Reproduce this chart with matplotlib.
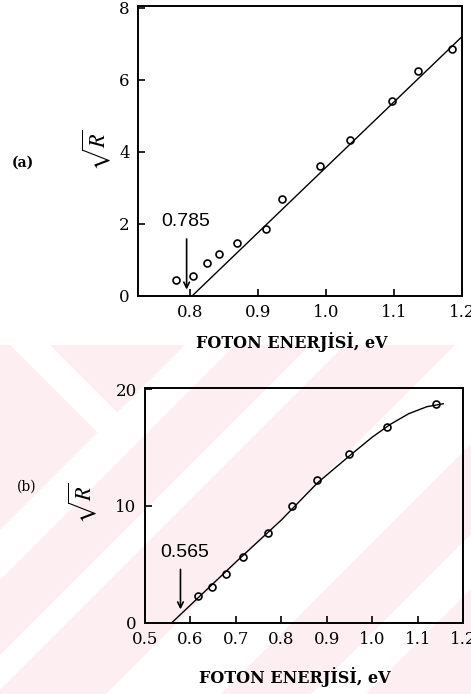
import matplotlib
matplotlib.use("Agg")
import matplotlib.pyplot as plt
from matplotlib.patches import Polygon

# panel (a) data
a_x=[0.780,0.805,0.825,0.843,0.869,0.912,0.936,0.991,1.035,1.097,1.136,1.186]
a_y=[0.45,0.56,0.91,1.17,1.47,1.85,2.69,3.62,4.32,5.42,6.25,6.85]
fit_a_x=[0.803,1.2]
fit_a_y=[0.0,7.2]
a_xticks=[0.8,0.9,1.0,1.1,1.2]
a_xlabels=["0.8","0.9","1.0","1.1","1.2"]
a_yticks=[0,2,4,6,8]

# panel (b) data
b_x=[0.617,0.647,0.678,0.716,0.771,0.823,0.878,0.949,1.033,1.140]
b_y=[2.29,3.08,4.17,5.60,7.65,9.99,12.22,14.45,16.78,18.72]
fit_b_x=[0.559,0.70,0.80,0.88,0.95,1.00,1.04,1.08,1.12,1.156]
fit_b_y=[0.0,5.2,8.8,12.0,14.3,15.9,17.0,17.9,18.5,18.75]
b_xticks=[0.5,0.6,0.7,0.8,0.9,1.0,1.1,1.2]
b_xlabels=["0.5","0.6","0.7","0.8","0.9","1.0","1.1","1.2"]
b_yticks=[0,10,20]

XLABEL="FOTON ENERJİSİ, eV"
plt.rcParams["font.family"]=["DejaVu Serif"]
plt.rcParams["mathtext.fontset"]="stix"
W,H=471,694
fig=plt.figure(figsize=(W/100,H/100),dpi=100)

# faint watermark behind the lower panel (pixel coordinates)
bg=fig.add_axes([0,0,1,1],zorder=-5); bg.set_xlim(0,W); bg.set_ylim(H,0); bg.axis("off")
pink="#fdeef1"
bg.add_patch(Polygon([(0,345),(W,345),(W,H),(0,H)],closed=True,fc=pink,ec="none"))
for lo,hi in [(530,580),(655,690),(800,915),(1005,1060)]:
    bg.add_patch(Polygon([(lo-345,345),(hi-345,345),(hi-H,H),(lo-H,H)],closed=True,fc="white",ec="none"))
bg.add_patch(Polygon([(10,345),(50,345),(142,437),(122,457)],closed=True,fc="white",ec="none"))

def style(ax):
    ax.set_facecolor("none")
    for s in ax.spines.values(): s.set_linewidth(1.4)
    ax.tick_params(direction="in",length=5,width=1.2,labelsize=12,pad=6)

# (a)
ax=fig.add_axes([138/W,1-296/H,324/W,290/H])
style(ax)
ax.plot(fit_a_x,fit_a_y,color="black",lw=1.0)
ax.plot(a_x,a_y,"o",ms=5,mfc="none",mec="black",mew=1.2)
ax.set_xlim(0.7235,1.2); ax.set_ylim(0,8.05)
ax.set_xticks(a_xticks); ax.set_xticklabels(a_xlabels); ax.set_yticks(a_yticks)
ax.annotate("",xy=(0.795,0.1),xytext=(0.795,1.66),arrowprops=dict(arrowstyle="->",color="black",lw=1.2))
ax.text(0.794,2.08,"0.785",ha="center",va="center",fontsize=14,family="Liberation Sans")
fig.text(97/W,1-150/H,r"$\sqrt{R}$",rotation=90,ha="center",va="center",fontsize=16)
fig.text(23/W,1-163/H,"(a)",ha="center",va="center",fontsize=10,weight="bold")
fig.text(292/W,1-342/H,XLABEL,ha="center",va="center",fontsize=11.5,weight="bold")

# (b)
bx=fig.add_axes([145/W,1-622.7/H,318.3/W,234.7/H])
style(bx)
bx.plot(fit_b_x,fit_b_y,color="black",lw=1.0)
bx.plot(b_x,b_y,"o",ms=5,mfc="none",mec="black",mew=1.2)
bx.set_xlim(0.5,1.2); bx.set_ylim(0,20.1)
bx.set_xticks(b_xticks); bx.set_xticklabels(b_xlabels); bx.set_yticks(b_yticks)
bx.annotate("",xy=(0.578,0.9),xytext=(0.578,4.8),arrowprops=dict(arrowstyle="->",color="black",lw=1.2))
bx.text(0.588,5.97,"0.565",ha="center",va="center",fontsize=14,family="Liberation Sans")
fig.text(83/W,1-503/H,r"$\sqrt{R}$",rotation=90,ha="center",va="center",fontsize=16)
fig.text(27/W,1-487/H,"(b)",ha="center",va="center",fontsize=10)
fig.text(295/W,1-677/H,XLABEL,ha="center",va="center",fontsize=11.5,weight="bold")

fig.savefig("out.png",dpi=100)
